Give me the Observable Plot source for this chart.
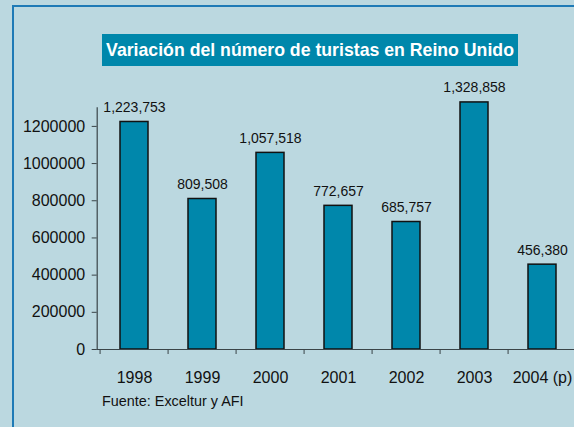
<!DOCTYPE html>
<html>
<head>
<meta charset="utf-8">
<script src="https://cdn.jsdelivr.net/npm/d3@7"></script>
<script src="https://cdn.jsdelivr.net/npm/@observablehq/plot@0.6"></script>
<style>
  html, body { margin: 0; padding: 0; }
  #wrap { position: relative; width: 574px; height: 427px; overflow: hidden; background: #bbd8e0;
          font-family: "Liberation Sans", Arial, Helvetica, sans-serif; }
  #border { position: absolute; left: 12px; top: 5px; width: 700px; height: 600px;
            border-left: 2px solid #1e7ab6; border-top: 2px solid #1e7ab6; }
  #title { position: absolute; left: 102px; top: 34px; width: 416px; height: 32px; line-height: 32px;
           background: #0087ab; color: #fff; font-weight: bold; font-size: 17.7px; text-align: center; white-space: nowrap; }
  #chart { position: absolute; left: 0; top: 0; }
  #source { position: absolute; left: 102px; top: 394px; font-size: 14.4px; line-height: 14.4px; color: #111; white-space: nowrap; }
</style>
</head>
<body>
<div id="wrap">
  <div id="border"></div>
  <div id="title"></div>
  <div id="chart"></div>
  <div id="source"></div>
</div>
<script>
const years = ["1998", "1999", "2000", "2001", "2002", "2003", "2004 (p)"];
const tourists = [1223753, 809508, 1057518, 772657, 685757, 1328858, 456380];
const yTicks = [0, 200000, 400000, 600000, 800000, 1000000, 1200000];
const titleText = "Variación del número de turistas en Reino Unido";
const sourceText = "Fuente: Exceltur y AFI";

const data = years.map((year, i) => ({year, value: tourists[i]}));
const fmt = d3.format(",");

const X0 = 96.7, X1 = 578.6;
const step = (X1 - X0) / years.length;
const H = 392;

const chart = Plot.plot({
  width: 574,
  height: H,
  marginLeft: X0,
  marginRight: 0,
  marginTop: 107.3,
  marginBottom: H - 349,
  style: {background: "transparent", fontFamily: "'Liberation Sans', Arial, Helvetica, sans-serif", fontSize: "16px", color: "#111", overflow: "visible"},
  x: {domain: years, range: [X0, X1], paddingInner: 0.59, paddingOuter: 0.295, label: null},
  y: {domain: [0, 1300000], label: null},
  marks: [
    Plot.barY(data, {x: "year", y: "value", fill: "#0087ab", stroke: "#111", strokeWidth: 1.5}),
    Plot.text(data, {x: "year", y: "value", text: d => fmt(d.value), dy: -10, lineAnchor: "bottom", fontSize: 14, fill: "#111"}),
    Plot.frame({anchor: "left", stroke: "#3a4448", strokeWidth: 1.2}),
    Plot.frame({anchor: "bottom", stroke: "#3a4448", strokeWidth: 1.2}),
    Plot.axisY({ticks: yTicks, tickFormat: d => String(d), tickSize: 5, tickPadding: 7, fontSize: 16, stroke: "#3a4448"}),
    Plot.axisX({tickSize: 5, dx: -step / 2, tickFormat: () => "", stroke: "#3a4448"}),
    Plot.axisX({tickSize: 0, tickPadding: 21.7, fontSize: 16})
  ]
});
document.getElementById("chart").appendChild(chart);
document.getElementById("title").textContent = titleText;
document.getElementById("source").textContent = sourceText;
</script>
</body>
</html>
